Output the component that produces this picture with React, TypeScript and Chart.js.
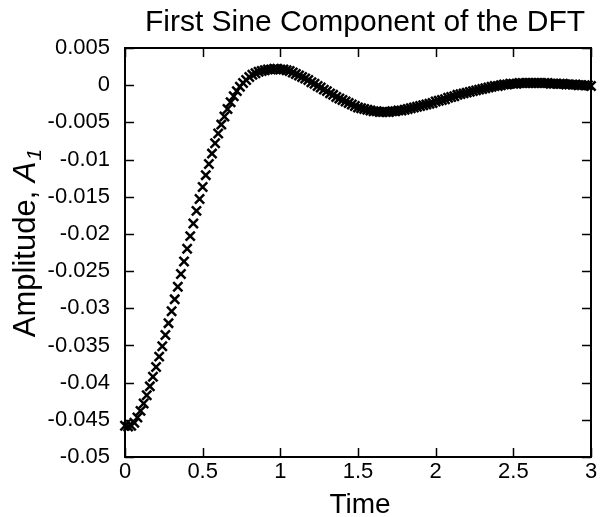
import React, { useEffect, useRef } from "react";
import { Chart, registerables } from "chart.js";

Chart.register(...registerables);

// ---- data ----
const times: number[] = [
  0.0, 0.02, 0.04, 0.06, 0.08, 0.1, 0.12, 0.14, 0.16, 0.18,
  0.2, 0.22, 0.24, 0.26, 0.28, 0.3, 0.32, 0.34, 0.36, 0.38,
  0.4, 0.42, 0.44, 0.46, 0.48, 0.5, 0.52, 0.54, 0.56, 0.58,
  0.6, 0.62, 0.64, 0.66, 0.68, 0.7, 0.72, 0.74, 0.76, 0.78,
  0.8, 0.82, 0.84, 0.86, 0.88, 0.9, 0.92, 0.94, 0.96, 0.98,
  1.0, 1.02, 1.04, 1.06, 1.08, 1.1, 1.12, 1.14, 1.16, 1.18,
  1.2, 1.22, 1.24, 1.26, 1.28, 1.3, 1.32, 1.34, 1.36, 1.38,
  1.4, 1.42, 1.44, 1.46, 1.48, 1.5, 1.52, 1.54, 1.56, 1.58,
  1.6, 1.62, 1.64, 1.66, 1.68, 1.7, 1.72, 1.74, 1.76, 1.78,
  1.8, 1.82, 1.84, 1.86, 1.88, 1.9, 1.92, 1.94, 1.96, 1.98,
  2.0, 2.02, 2.04, 2.06, 2.08, 2.1, 2.12, 2.14, 2.16, 2.18,
  2.2, 2.22, 2.24, 2.26, 2.28, 2.3, 2.32, 2.34, 2.36, 2.38,
  2.4, 2.42, 2.44, 2.46, 2.48, 2.5, 2.52, 2.54, 2.56, 2.58,
  2.6, 2.62, 2.64, 2.66, 2.68, 2.7, 2.72, 2.74, 2.76, 2.78,
  2.8, 2.82, 2.84, 2.86, 2.88, 2.9, 2.92, 2.94, 2.96, 2.98,
  3.0,
];

const amplitudeA1: number[] = [
  -0.0458, -0.0459, -0.0458, -0.0454, -0.0447, -0.0438, -0.0428, -0.0417, -0.0405, -0.0392,
  -0.0379, -0.0365, -0.0351, -0.0336, -0.032, -0.0304, -0.0288, -0.0271, -0.0254, -0.0237,
  -0.022, -0.0203, -0.0186, -0.0169, -0.0153, -0.0137, -0.0121, -0.0106, -0.0092, -0.0078,
  -0.0065, -0.0053, -0.0042, -0.0032, -0.0023, -0.0015, -0.0008, -0.0002, 0.0003, 0.0007,
  0.0011, 0.0014, 0.0016, 0.0018, 0.0019, 0.002, 0.0021, 0.0021, 0.0022, 0.0022,
  0.0021, 0.0021, 0.002, 0.0019, 0.0017, 0.0015, 0.0013, 0.0011, 0.0009, 0.0007,
  0.0004, 0.0002, -0.0001, -0.0003, -0.0006, -0.0008, -0.0011, -0.0013, -0.0016, -0.0018,
  -0.002, -0.0022, -0.0024, -0.0026, -0.0028, -0.003, -0.0031, -0.0032, -0.0033, -0.0034,
  -0.0035, -0.0035, -0.0036, -0.0036, -0.0036, -0.0036, -0.0035, -0.0035, -0.0034, -0.0034,
  -0.0033, -0.0032, -0.0031, -0.003, -0.0029, -0.0028, -0.0027, -0.0026, -0.0025, -0.0024,
  -0.0022, -0.0021, -0.002, -0.0019, -0.0017, -0.0016, -0.0015, -0.0013, -0.0012, -0.0011,
  -0.001, -0.0009, -0.0008, -0.0007, -0.0006, -0.0005, -0.0004, -0.0003, -0.0002, -0.0001,
  -0.0001, 0.0, 0.0001, 0.0001, 0.0002, 0.0002, 0.0002, 0.0003, 0.0003, 0.0003,
  0.0003, 0.0003, 0.0003, 0.0003, 0.0003, 0.0003, 0.0003, 0.0002, 0.0002, 0.0002,
  0.0002, 0.0002, 0.0001, 0.0001, 0.0001, 0.0001, 0.0, 0.0, 0.0, 0.0,
  -0.0001,
];

const xTickValues: number[] = [0, 0.5, 1, 1.5, 2, 2.5, 3];
const xTickLabels: string[] = ["0", "0.5", "1", "1.5", "2", "2.5", "3"];
const yTickValues: number[] = [
  -0.05, -0.045, -0.04, -0.035, -0.03, -0.025, -0.02, -0.015, -0.01, -0.005, 0, 0.005,
];
const yTickLabels: string[] = [
  "-0.05", "-0.045", "-0.04", "-0.035", "-0.03", "-0.025", "-0.02", "-0.015", "-0.01", "-0.005", "0", "0.005",
];

const titleText = "First Sine Component of the DFT";
const xAxisTitle = "Time";
const yAxisTitleMain = "Amplitude, ";
const yAxisTitleSymbol = "A";
const yAxisTitleSub = "1";

const FONT = "'Liberation Sans', Arial, Helvetica, sans-serif";
const W = 602;
const H = 517;
const PLOT = { left: 125, right: 591, top: 48, bottom: 457 };

const framePlugin = {
  id: "gnuFrame",
  beforeDatasetsDraw(chart: any) {
    const { ctx, chartArea: a, scales } = chart;
    ctx.save();
    ctx.strokeStyle = "#000";
    ctx.lineWidth = 2;
    ctx.strokeRect(a.left, a.top, a.right - a.left, a.bottom - a.top);
    ctx.lineWidth = 1.5;
    const L = 9;
    ctx.beginPath();
    xTickValues.forEach((v) => {
      const px = Math.round(scales.x.getPixelForValue(v)) + 0.5;
      ctx.moveTo(px, a.bottom);
      ctx.lineTo(px, a.bottom - L);
      ctx.moveTo(px, a.top);
      ctx.lineTo(px, a.top + L);
    });
    yTickValues.forEach((v) => {
      const py = Math.round(scales.y.getPixelForValue(v)) + 0.5;
      ctx.moveTo(a.left, py);
      ctx.lineTo(a.left + L, py);
      ctx.moveTo(a.right, py);
      ctx.lineTo(a.right - L, py);
    });
    ctx.stroke();
    ctx.restore();
  },
  afterDraw(chart: any) {
    const { ctx, chartArea: a } = chart;
    const cx = (a.left + a.right) / 2;
    ctx.save();
    ctx.fillStyle = "#000";
    // main title
    ctx.font = `30px ${FONT}`;
    ctx.textAlign = "center";
    ctx.textBaseline = "alphabetic";
    ctx.fillText(titleText, cx + 7, 31);
    // x title
    ctx.font = `28px ${FONT}`;
    ctx.fillText(xAxisTitle, cx + 2, 513);
    // y title (rotated, mixed styles)
    const mainFont = `31px ${FONT}`;
    const symFont = `italic 31px ${FONT}`;
    const subFont = `italic 21px ${FONT}`;
    ctx.font = mainFont;
    const w1 = ctx.measureText(yAxisTitleMain).width;
    ctx.font = symFont;
    const w2 = ctx.measureText(yAxisTitleSymbol).width;
    ctx.font = subFont;
    const w3 = ctx.measureText(yAxisTitleSub).width;
    const total = w1 + w2 + w3 + 1;
    ctx.translate(35, 243);
    ctx.rotate(-Math.PI / 2);
    ctx.textAlign = "left";
    let x0 = -total / 2;
    ctx.font = mainFont;
    ctx.fillText(yAxisTitleMain, x0, 0);
    x0 += w1;
    ctx.font = symFont;
    ctx.fillText(yAxisTitleSymbol, x0, 0);
    x0 += w2 + 1;
    ctx.font = subFont;
    ctx.fillText(yAxisTitleSub, x0, 6);
    ctx.restore();
  },
};

export default function App() {
  const canvasRef = useRef<HTMLCanvasElement | null>(null);

  useEffect(() => {
    document.body.style.margin = "0";
    const canvas = canvasRef.current;
    if (!canvas) return;
    const points = times.map((t, i) => ({ x: t, y: amplitudeA1[i] }));
    const chart = new Chart(canvas, {
      type: "scatter",
      data: {
        datasets: [
          {
            data: points,
            showLine: false,
            pointStyle: "crossRot",
            pointRadius: 6.5,
            pointHoverRadius: 6.5,
            borderWidth: 2.5,
            borderColor: "#000",
            backgroundColor: "#000",
            clip: false,
          } as any,
        ],
      },
      options: {
        responsive: false,
        animation: false,
        devicePixelRatio: 1,
        events: [],
        layout: {
          padding: { top: PLOT.top, right: W - PLOT.right, bottom: 0, left: 0 },
        },
        plugins: {
          legend: { display: false },
          title: { display: false },
          tooltip: { enabled: false },
        },
        scales: {
          x: {
            type: "linear",
            position: "bottom",
            min: 0,
            max: 3,
            grid: { display: false, drawTicks: false },
            border: { display: false },
            afterBuildTicks: (scale: any) => {
              scale.ticks = xTickValues.map((v) => ({ value: v }));
            },
            afterFit: (scale: any) => {
              scale.height = H - PLOT.bottom;
            },
            ticks: {
              autoSkip: false,
              maxRotation: 0,
              minRotation: 0,
              padding: 2,
              color: "#000",
              font: { family: FONT, size: 22 },
              callback: (_v: any, i: number) => xTickLabels[i],
            },
          },
          y: {
            type: "linear",
            position: "left",
            min: -0.05,
            max: 0.005,
            grid: { display: false, drawTicks: false },
            border: { display: false },
            afterBuildTicks: (scale: any) => {
              scale.ticks = yTickValues.map((v) => ({ value: v }));
            },
            afterFit: (scale: any) => {
              scale.width = PLOT.left;
            },
            ticks: {
              autoSkip: false,
              padding: 15,
              color: "#000",
              font: { family: FONT, size: 22 },
              callback: (_v: any, i: number) => yTickLabels[i],
            },
          },
        },
      },
      plugins: [framePlugin],
    });
    return () => chart.destroy();
  }, []);

  return (
    <div style={{ position: "absolute", left: 0, top: 0, width: W, height: H, background: "#fff" }}>
      <canvas ref={canvasRef} width={W} height={H} style={{ display: "block" }} />
    </div>
  );
}
